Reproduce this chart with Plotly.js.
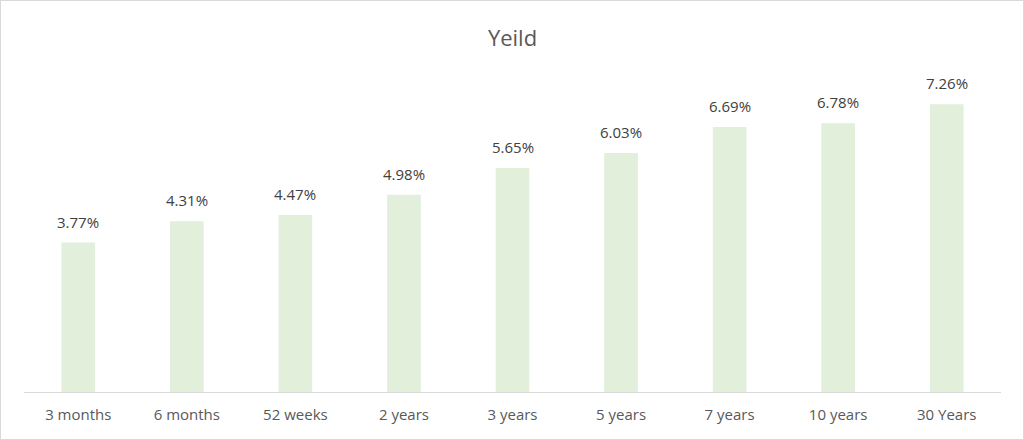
<!DOCTYPE html>
<html>
<head>
<meta charset="utf-8">
<script src="https://cdn.plot.ly/plotly-3.0.1.min.js"></script>
<style>
  body { margin: 0; background: #fff; }
  #chart { width: 1022px; height: 438px; border: 1px solid #d9d9d9; }
</style>
</head>
<body>
<div id="chart"></div>
<script>
// Данные
const terms = ["3 months", "6 months", "52 weeks", "2 years", "3 years", "5 years", "7 years", "10 years", "30 Years"];
const yields = [3.77, 4.31, 4.47, 4.98, 5.65, 6.03, 6.69, 6.78, 7.26];

const FONT = "Open Sans, DejaVu Sans, sans-serif";

const trace = {
  type: "bar",
  x: terms,
  y: yields,
  width: 0.31,
  marker: { color: "#e2efda" },
  hoverinfo: "x+y",
};

// подписи над столбцами
const labels = terms.map((t, i) => ({
  x: t,
  y: yields[i],
  xref: "x",
  yref: "y",
  text: yields[i].toFixed(2) + "%",
  showarrow: false,
  yanchor: "bottom",
  yshift: 9,
  font: { family: FONT, size: 15, color: "#404040" },
}));

const layout = {
  width: 1022,
  height: 438,
  margin: { l: 23, r: 22, t: 74, b: 47 },
  paper_bgcolor: "#ffffff",
  plot_bgcolor: "#ffffff",
  showlegend: false,
  title: {
    text: "Yeild",
    font: { family: FONT, size: 22, color: "#595959" },
    x: 0.5,
    xref: "paper",
    y: 0.914,
    yref: "container",
    yanchor: "middle",
  },
  xaxis: {
    showline: true,
    linecolor: "#d9d9d9",
    linewidth: 1,
    ticks: "",
    ticklabelstandoff: 9,
    showgrid: false,
    tickfont: { family: FONT, size: 15, color: "#595959" },
  },
  yaxis: {
    range: [0, 8],
    visible: false,
    showgrid: false,
    zeroline: false,
  },
  annotations: labels,
};

Plotly.newPlot("chart", [trace], layout, { displayModeBar: false });
</script>
</body>
</html>
